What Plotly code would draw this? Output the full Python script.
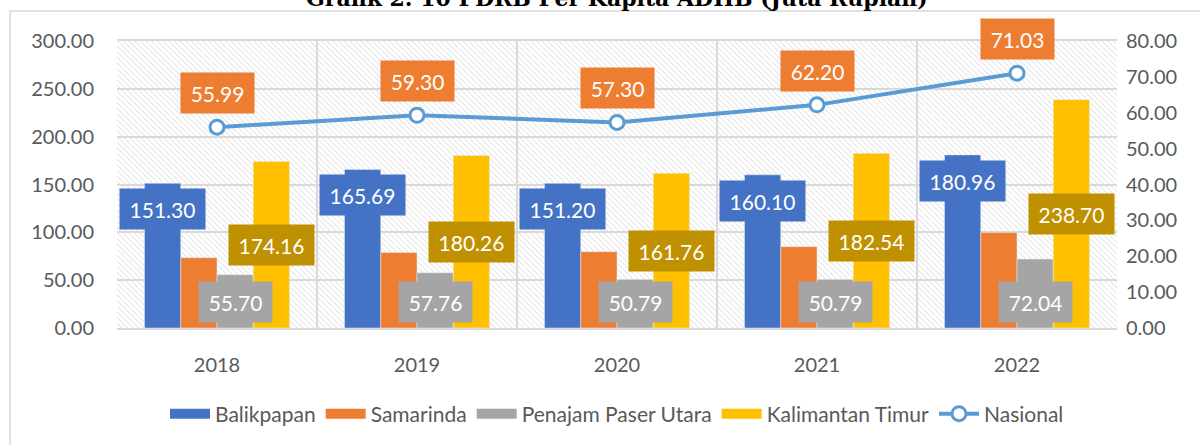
import base64
import plotly.graph_objects as go

# data
years = ["2018", "2019", "2020", "2021", "2022"]
balikpapan = [151.30, 165.69, 151.20, 160.10, 180.96]
samarinda = [73.5, 79.0, 79.7, 85.0, 99.7]          # no labels in source, estimated
ppu = [55.70, 57.76, 50.79, 50.79, 72.04]
kaltim = [174.16, 180.26, 161.76, 182.54, 238.70]
nasional = [55.99, 59.30, 57.30, 62.20, 71.03]

left_ticks = [0, 50, 100, 150, 200, 250, 300]
right_ticks = [0, 10, 20, 30, 40, 50, 60, 70, 80]

C_BLUE = "#4472C4"
C_ORANGE = "#ED7D31"
C_GRAY = "#A5A5A5"
C_YELLOW = "#FFC000"
C_GOLD = "#BF9000"
C_LINE = "#5B9BD5"
GRID = "#d9d9d9"
TXT = "#595959"
FONT = "Lato"

W, H = 1200, 445
ML, MR, MT, MB = 117, 83, 41, 117
BARGAP = 0.275
pw = W - ML - MR
ph = H - MT - MB
bar_w = pw / len(years) * (1 - BARGAP) / 4

# hatched plot background as a small svg
hatch = f"""<svg xmlns="http://www.w3.org/2000/svg" width="{pw}" height="{ph}">
<defs><pattern id="h" width="4" height="4" patternUnits="userSpaceOnUse" patternTransform="rotate(-45)">
<line x1="0" y1="0" x2="0" y2="4" stroke="#d6d6d6" stroke-width="1.3"/></pattern></defs>
<rect width="100%" height="100%" fill="white"/>
<rect width="100%" height="100%" fill="url(#h)"/></svg>"""
hatch_uri = "data:image/svg+xml;base64," + base64.b64encode(hatch.encode()).decode()

series = [("Balikpapan", balikpapan, C_BLUE),
          ("Samarinda", samarinda, C_ORANGE),
          ("Penajam Paser Utara", ppu, C_GRAY),
          ("Kalimantan Timur", kaltim, C_YELLOW)]

fig = go.Figure()
for name, vals, col in series:
    fig.add_trace(go.Bar(name=name, x=years, y=vals, marker_color=col,
                         legendgroup=name, showlegend=False))
# wide swatches in the legend, like the excel original
for name, vals, col in series:
    fig.add_trace(go.Scatter(name=name, x=[None], y=[None], mode="lines",
                             line=dict(color=col, width=14), legendgroup=name))
fig.add_trace(go.Scatter(name="Nasional", x=years, y=nasional, yaxis="y2",
                         mode="lines+markers",
                         line=dict(color=C_LINE, width=4),
                         marker=dict(symbol="circle", size=14, color="white",
                                     line=dict(color=C_LINE, width=3))))


def label(i, y, txt, bg, xshift=0, yshift=0, yref="y"):
    # category axis: annotations take the category's serial number
    fig.add_annotation(x=i, y=y, xref="x", yref=yref, text=txt, showarrow=False,
                       xshift=xshift, yshift=yshift, bgcolor=bg,
                       width=12 * len(txt) + 11, height=38,
                       font=dict(family=FONT, size=21, color="white"))


for i in range(len(years)):
    # Balikpapan: inside end
    label(i, balikpapan[i], f"{balikpapan[i]:.2f}", C_BLUE, xshift=-1.5 * bar_w, yshift=-26)
    # PPU: inside base
    label(i, 0, f"{ppu[i]:.2f}", C_GRAY, xshift=0.5 * bar_w, yshift=26)
    # Kaltim: centre
    label(i, kaltim[i] / 2, f"{kaltim[i]:.2f}", C_GOLD, xshift=1.5 * bar_w)
    # Nasional: above
    label(i, nasional[i], f"{nasional[i]:.2f}", C_ORANGE, yshift=34, yref="y2")

# chart title, partly cut off at the top like the source
fig.add_annotation(x=0.5, y=1 + (MT - 13) / ph, xref="paper", yref="paper",
                   xanchor="center", yanchor="bottom", showarrow=False,
                   text="<b>Grafik 2. 10 PDRB Per Kapita ADHB (Juta Rupiah)</b>",
                   font=dict(family="DejaVu Serif", size=22, color="black"))

# outer chart border
fig.add_shape(type="rect", xref="paper", yref="paper",
              x0=(10 - ML) / pw, x1=(1210 - ML) / pw,
              y0=1 - (455 - MT) / ph, y1=1 + (MT - 11) / ph,
              line=dict(color=GRID, width=1.5), fillcolor="rgba(0,0,0,0)", layer="below")

fig.update_layout(
    width=W, height=H,
    margin=dict(l=ML, r=MR, t=MT, b=MB, autoexpand=False),
    paper_bgcolor="white", plot_bgcolor="rgba(0,0,0,0)",
    barmode="group", bargap=BARGAP, bargroupgap=0,
    font=dict(family=FONT, color=TXT),
    images=[dict(source=hatch_uri, xref="paper", yref="paper", x=0, y=1,
                 sizex=1, sizey=1, xanchor="left", yanchor="top",
                 sizing="stretch", layer="below")],
    xaxis=dict(type="category", range=[-0.5, len(years) - 0.5],
               tickson="boundaries", showgrid=True, gridcolor=GRID,
               gridwidth=1.5, showline=True, linecolor=GRID, linewidth=1.5, mirror=True,
               ticks="", tickfont=dict(size=20, color=TXT), ticklabelstandoff=18),
    yaxis=dict(range=[0, 300], tickvals=left_ticks,
               ticktext=[f"{v:.2f}" for v in left_ticks],
               showgrid=True, gridcolor=GRID, gridwidth=1.5, zeroline=False,
               ticks="", tickfont=dict(size=20, color=TXT), ticklabelstandoff=22),
    yaxis2=dict(range=[0, 80], tickvals=right_ticks,
                ticktext=[f"{v:.2f}" for v in right_ticks],
                overlaying="y", side="right", showgrid=False, zeroline=False,
                ticks="", tickfont=dict(size=20, color=TXT), ticklabelstandoff=8),
    legend=dict(orientation="h", x=0.5, xanchor="center", y=1 - (414 - MT) / ph,
                yanchor="middle", font=dict(size=21, color=TXT), traceorder="normal",
                bgcolor="rgba(0,0,0,0)", itemwidth=40),
    showlegend=True,
)

fig.write_html("out.html", config={"displayModeBar": False},
               post_script="document.body.style.margin = '0';")
